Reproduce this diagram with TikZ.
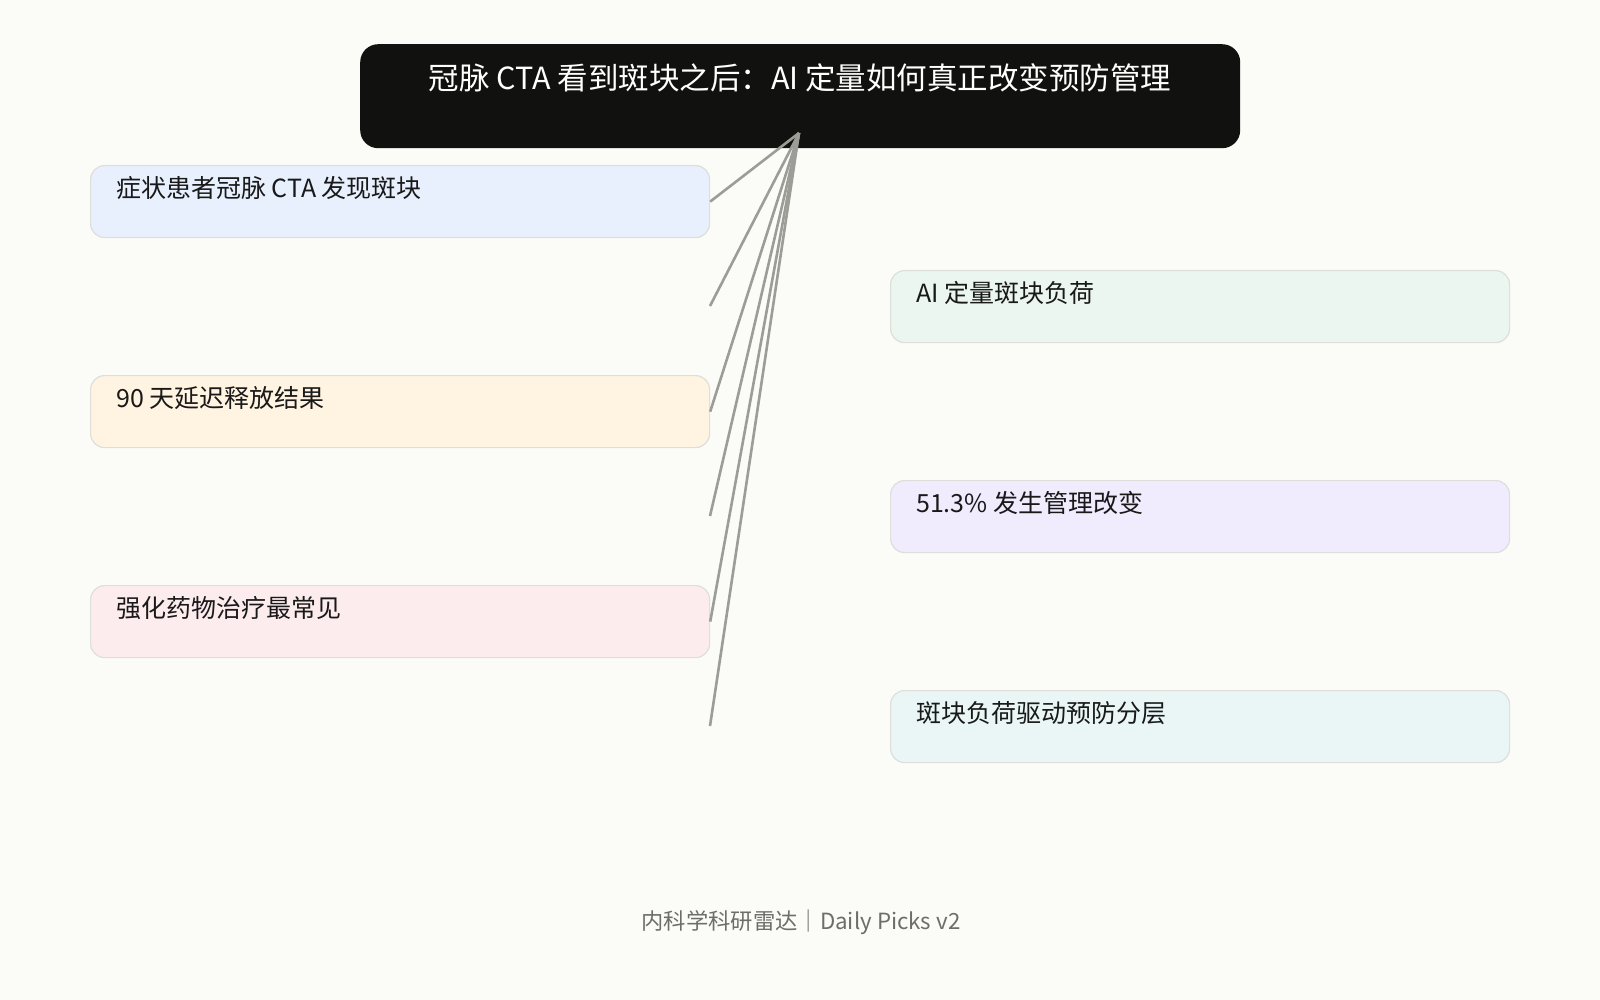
\documentclass[tikz,border=0pt]{standalone}
\usepackage{fontspec}
\setmainfont{Noto Sans CJK SC}
\definecolor{paper}{HTML}{FBFBF7}
\definecolor{inkbox}{HTML}{111110}
\definecolor{wire}{HTML}{9C9D97}
\definecolor{edge}{HTML}{DEDEDA}
\definecolor{footgray}{HTML}{6E6E69}
\definecolor{fillA}{HTML}{E8F0FE}
\definecolor{fillB}{HTML}{FFF3E2}
\definecolor{fillC}{HTML}{FDECEE}
\definecolor{fillD}{HTML}{EAF6EF}
\definecolor{fillE}{HTML}{F0ECFE}
\definecolor{fillF}{HTML}{EAF6F6}
\begin{document}
\begin{tikzpicture}[x=1pt, y=-1pt,
    titleStyle/.style={rectangle, rounded corners=18pt, fill=inkbox, draw=none, minimum width=880pt, minimum height=104pt, anchor=north west, inner sep=0pt},
    boxStyle/.style={rectangle, rounded corners=14pt, draw=edge, line width=1.2pt, minimum width=619pt, minimum height=72pt, anchor=north west, inner sep=0pt},
    labelStyle/.style={anchor=west, inner sep=0pt, font=\fontsize{25}{29}\selectfont, text=black!90},
    wireStyle/.style={draw=wire, line width=2.6pt}]
    \fill[paper] (0,0) rectangle (1600,1000);
    % title
    \node[titleStyle] (title) at (360,44) {};
    \node[inner sep=0pt, font=\fontsize{30.5}{35}\selectfont, text=white] (titleT) at (800,78) {冠脉 CTA 看到斑块之后：AI 定量如何真正改变预防管理};
    % left column
    \node[boxStyle, fill=fillA] (plaque) at (90,165) {};
    \node[labelStyle] (plaqueT) at (116,188) {症状患者冠脉 CTA 发现斑块};
    \node[boxStyle, fill=fillB] (delay) at (90,375) {};
    \node[labelStyle] (delayT) at (116,398) {90 天延迟释放结果};
    \node[boxStyle, fill=fillC] (drug) at (90,585) {};
    \node[labelStyle] (drugT) at (116,608) {强化药物治疗最常见};
    % right column
    \node[boxStyle, fill=fillD] (burden) at (890,270) {};
    \node[labelStyle] (burdenT) at (916,293) {AI 定量斑块负荷};
    \node[boxStyle, fill=fillE] (change) at (890,480) {};
    \node[labelStyle] (changeT) at (916,503) {51.3\% 发生管理改变};
    \node[boxStyle, fill=fillF] (strata) at (890,690) {};
    \node[labelStyle] (strataT) at (916,713) {斑块负荷驱动预防分层};
    % connectors
    \coordinate (hub) at (799,133);
    \coordinate (burdenEnd) at (710,306);
    \coordinate (changeEnd) at (710,516);
    \coordinate (strataEnd) at (710,726);
    \draw[wireStyle] (hub) -- (plaque.east);
    \draw[wireStyle] (hub) -- (burdenEnd);
    \draw[wireStyle] (hub) -- (delay.east);
    \draw[wireStyle] (hub) -- (changeEnd);
    \draw[wireStyle] (hub) -- (drug.east);
    \draw[wireStyle] (hub) -- (strataEnd);
    % footer
    \node[inner sep=0pt, font=\fontsize{22.3}{26}\selectfont, text=footgray] (foot) at (801,922) {内科学科研雷达｜Daily Picks v2};
\end{tikzpicture}
\end{document}
